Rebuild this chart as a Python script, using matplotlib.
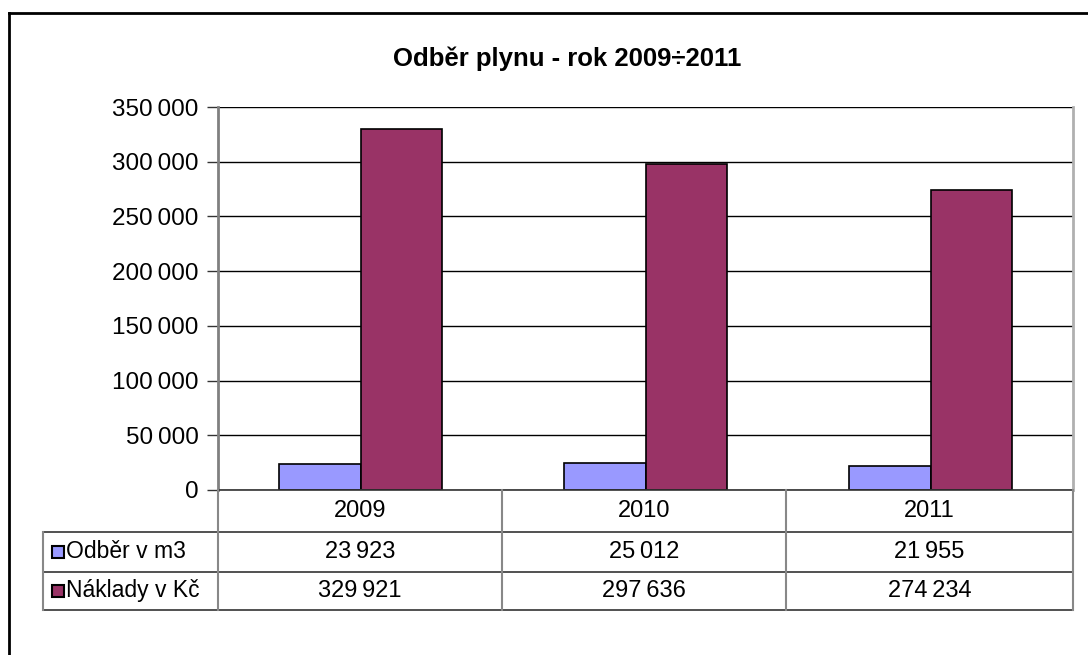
import matplotlib
matplotlib.use("Agg")
import matplotlib.pyplot as plt
from matplotlib.lines import Line2D
from matplotlib.patches import Rectangle
from matplotlib.ticker import FuncFormatter
import numpy as np

plt.rcParams['font.family'] = ['Liberation Sans', 'DejaVu Sans']

title = "Odběr plynu - rok 2009÷2011"
roky = ["2009", "2010", "2011"]
odber = [23923, 25012, 21955]
naklady = [329921, 297636, 274234]
serie_nazvy = ["Odběr v m3", "Náklady v Kč"]
barvy = ["#9999FF", "#993366"]

W, H = 1088, 655
fig = plt.figure(figsize=(W / 100, H / 100), dpi=100)

# pixel helpers
def fx(px):
    return px / W

def fy(py):
    return 1 - py / H

left, right, top, bottom = 218, 1073, 107, 490
ax = fig.add_axes([fx(left), fy(bottom), fx(right) - fx(left), fy(top) - fy(bottom)])

x = np.arange(len(roky))
w = 1 / 3.5
ax.bar(x - w / 2, odber, w, color=barvy[0], edgecolor="black", linewidth=1.2, zorder=3)
ax.bar(x + w / 2, naklady, w, color=barvy[1], edgecolor="black", linewidth=1.2, zorder=3)

ax.set_xlim(-0.5, len(roky) - 0.5)
ax.set_ylim(0, 350000)
ax.set_yticks(np.arange(0, 350001, 50000))
ax.yaxis.set_major_formatter(FuncFormatter(lambda v, p: f"{int(v):,}".replace(",", "\u2009")))
ax.set_xticks([])
ax.grid(axis="y", color="black", linewidth=1, zorder=0)
ax.tick_params(axis="y", length=8, width=1, labelsize=17.5, pad=6, color="#333333")
for s in ["top", "bottom"]:
    ax.spines[s].set_visible(False)
ax.spines["left"].set_color("#808080")
ax.spines["left"].set_linewidth(2)
ax.spines["right"].set_color("#b0b0b0")
ax.spines["right"].set_linewidth(2)

fig.text(fx(567), fy(59), title, ha="center", va="center", fontsize=18.5, fontweight="bold")

# outer frame of the chart (cropped at right and bottom)
fig.add_artist(Line2D([fx(9), fx(9)], [fy(13), 0], color="black", linewidth=2))
fig.add_artist(Line2D([fx(9), 1], [fy(13), fy(13)], color="black", linewidth=2))

# data table under the plot
row_y = [490, 532, 572, 610]
col_x = [218, 502, 786, 1073]
tleft = 43
for i, yy in enumerate(row_y):
    x0 = left if i == 0 else tleft
    fig.add_artist(Line2D([fx(x0), fx(right)], [fy(yy), fy(yy)], color="#333333", linewidth=1.2))
for cx in col_x:
    fig.add_artist(Line2D([fx(cx), fx(cx)], [fy(row_y[0]), fy(row_y[-1])], color="#888888", linewidth=1.5))
fig.add_artist(Line2D([fx(tleft), fx(tleft)], [fy(row_y[1]), fy(row_y[-1])], color="#888888", linewidth=1.5))

for j, rok in enumerate(roky):
    cx = (col_x[j] + col_x[j + 1]) / 2
    fig.text(fx(cx), fy((row_y[0] + row_y[1]) / 2), rok, ha="center", va="center", fontsize=17)
    for r, vals in enumerate([odber, naklady]):
        s = f"{vals[j]:,}".replace(",", "\u2009")
        fig.text(fx(cx), fy((row_y[r + 1] + row_y[r + 2]) / 2), s, ha="center", va="center", fontsize=17)

for r, nazev in enumerate(serie_nazvy):
    cy = (row_y[r + 1] + row_y[r + 2]) / 2
    fig.add_artist(Rectangle((fx(52), fy(cy + 6)), fx(12), fy(cy - 6) - fy(cy + 6),
                             facecolor=barvy[r], edgecolor="black", linewidth=1.5))
    fig.text(fx(66), fy(cy), nazev, ha="left", va="center", fontsize=16.5)

fig.savefig("out.png", dpi=100)
